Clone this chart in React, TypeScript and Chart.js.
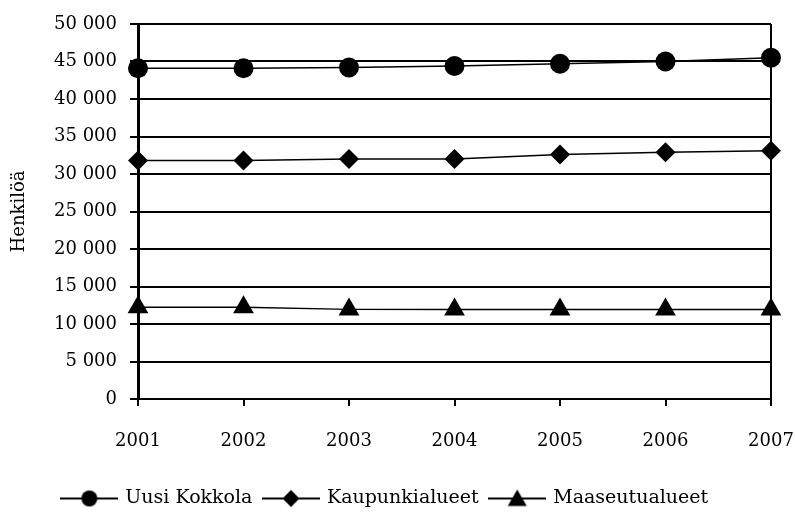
import React, { useEffect, useRef } from "react";
import { Chart, registerables } from "chart.js";

Chart.register(...registerables);

const years = ["2001", "2002", "2003", "2004", "2005", "2006", "2007"];
const uusiKokkola = [44100, 44100, 44200, 44400, 44700, 45000, 45500];
const kaupunkialueet = [31800, 31800, 32000, 32000, 32600, 32900, 33100];
const maaseutualueet = [12250, 12250, 11950, 11950, 11950, 11950, 11950];
const seriesNames = ["Uusi Kokkola", "Kaupunkialueet", "Maaseutualueet"];
const axisTitle = "Henkilöä";

const FONT = "'DejaVu Serif', serif";

function legendIcon(style: string): HTMLCanvasElement {
  const w = 58;
  const c = document.createElement("canvas");
  c.width = w;
  c.height = 24;
  const ctx = c.getContext("2d")!;
  const cx = w / 2;
  ctx.fillStyle = "#000";
  ctx.strokeStyle = "#000";
  ctx.lineWidth = 2;
  ctx.beginPath();
  ctx.moveTo(0, 12);
  ctx.lineTo(w, 12);
  ctx.stroke();
  ctx.beginPath();
  if (style === "circle") {
    ctx.arc(cx, 12, 8, 0, Math.PI * 2);
  } else if (style === "rectRot") {
    ctx.moveTo(cx, 3.5);
    ctx.lineTo(cx + 8.5, 12);
    ctx.lineTo(cx, 20.5);
    ctx.lineTo(cx - 8.5, 12);
    ctx.closePath();
  } else {
    ctx.moveTo(cx, 3);
    ctx.lineTo(cx + 9.5, 19.5);
    ctx.lineTo(cx - 9.5, 19.5);
    ctx.closePath();
  }
  ctx.fill();
  return c;
}

export default function App() {
  const ref = useRef<HTMLCanvasElement | null>(null);
  useEffect(() => {
    document.body.style.margin = "0";
    const styles = ["circle", "rectRot", "triangle"];
    const radii = [10, 10, 12];
    const values = [uusiKokkola, kaupunkialueet, maaseutualueet];
    const icons = styles.map(legendIcon);
    const chart = new Chart(ref.current!, {
      type: "line",
      data: {
        labels: years,
        datasets: values.map((d, i) => ({
          label: seriesNames[i],
          data: d,
          borderColor: "#000",
          backgroundColor: "#000",
          borderWidth: 1.5,
          pointStyle: styles[i] as any,
          pointRadius: radii[i],
          pointBackgroundColor: "#000",
          pointBorderColor: "#000",
          pointBorderWidth: 0,
          tension: 0,
          fill: false,
        })),
      },
      options: {
        animation: false,
        responsive: false,
        maintainAspectRatio: false,
        layout: { padding: { top: 24, right: 24, left: 0, bottom: 8 } },
        plugins: {
          tooltip: { enabled: false },
          legend: {
            position: "bottom",
            labels: {
              usePointStyle: true,
              pointStyleWidth: 53,
              boxHeight: 18,
              padding: 12,
              color: "#000",
              font: { family: FONT, size: 19 },
              generateLabels: (ch: any) =>
                ch.data.datasets.map((ds: any, i: number) => ({
                  text: ds.label,
                  pointStyle: icons[i],
                  fillStyle: "#000",
                  strokeStyle: "#000",
                  lineWidth: 0,
                  hidden: false,
                  datasetIndex: i,
                  fontColor: "#000",
                })),
            },
          },
        },
        scales: {
          x: {
            type: "category",
            offset: false,
            border: { display: true, color: "#000", width: 2 },
            grid: {
              drawOnChartArea: true,
              color: (ctx: any) =>
                ctx.index === 0 || ctx.index === years.length - 1 ? "#000" : "rgba(0,0,0,0)",
              tickColor: "#000",
              lineWidth: 2,
              tickLength: 7,
            },
            ticks: {
              color: "#000",
              font: { family: FONT, size: 18 },
              padding: 25,
              maxRotation: 0,
            },
            afterFit: (s: any) => {
              s.height = 78;
              s.paddingRight = 0;
              s.paddingLeft = 0;
            },
          },
          y: {
            min: 0,
            max: 50000,
            border: { display: true, color: "#000", width: 3 },
            grid: { color: "#000", lineWidth: 2, tickLength: 8, tickColor: "#000" },
            ticks: {
              stepSize: 5000,
              color: "#000",
              font: { family: FONT, size: 18 },
              padding: 13,
              callback: (v: any) => String(v).replace(/\B(?=(\d{3})+(?!\d))/g, " "),
            },
            title: {
              display: true,
              text: axisTitle,
              color: "#000",
              font: { family: FONT, size: 18 },
              padding: { top: 9, bottom: 0 },
            },
            afterFit: (s: any) => {
              s.width = 138;
            },
          },
        },
      },
    });
    return () => chart.destroy();
  }, []);
  return (
    <div style={{ width: 795, height: 526 }}>
      <canvas ref={ref} width={795} height={526} style={{ display: "block" }} />
    </div>
  );
}
